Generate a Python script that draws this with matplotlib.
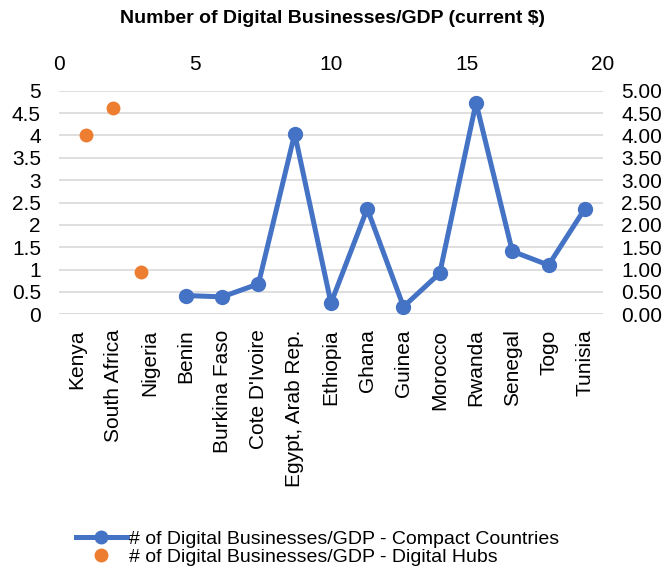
import matplotlib.pyplot as plt
from matplotlib.lines import Line2D

plt.rcParams["font.family"] = ["Liberation Sans", "DejaVu Sans"]

# compact countries (category axis) and digital hubs (secondary x axis)
countries = [
    "Kenya", "South Africa", "Nigeria", "Benin", "Burkina Faso",
    "Cote D'Ivoire", "Egypt, Arab Rep.", "Ethiopia", "Ghana", "Guinea",
    "Morocco", "Rwanda", "Senegal", "Togo", "Tunisia",
]
compact_countries = [
    "Benin", "Burkina Faso", "Cote D'Ivoire", "Egypt, Arab Rep.", "Ethiopia",
    "Ghana", "Guinea", "Morocco", "Rwanda", "Senegal", "Togo", "Tunisia",
]
compact_values = [0.42, 0.39, 0.68, 4.04, 0.25, 2.36, 0.17, 0.92, 4.73, 1.41, 1.10, 2.36]
hub_x = [1, 2, 3]
hub_values = [4.01, 4.62, 0.94]

blue = "#4472C4"
orange = "#ED7D31"
grid = "#D9D9D9"
fs = 15

fig = plt.figure(figsize=(6.65, 5.69), dpi=100)
ax = fig.add_axes([0.0887, 0.4476, 0.818, 0.393])

xpos = [countries.index(c) for c in compact_countries]
ax.plot(xpos, compact_values, color=blue, lw=3.6, marker="o", ms=10, zorder=3)
ax.set_xlim(-0.5, len(countries) - 0.5)
ax.set_ylim(0, 5)
ax.set_yticks([i * 0.5 for i in range(11)])
ax.set_yticklabels([f"{i * 0.5:g}" for i in range(11)])
ax.set_xticks(range(len(countries)))
ax.set_xticklabels(countries, rotation=90)
ax.tick_params(axis="x", length=0, labelsize=fs, pad=11)
ax.tick_params(axis="y", length=0, labelsize=fs, pad=13)
ax.grid(axis="y", color=grid, lw=1.2, zorder=0)
for s in ax.spines.values():
    s.set_visible(False)
ax.axhline(0, color=grid, lw=1.2, zorder=1)

# secondary y axis on the right
axr = ax.twinx()
axr.set_ylim(0, 5)
axr.set_yticks([i * 0.5 for i in range(11)])
axr.set_yticklabels([f"{i * 0.5:.2f}" for i in range(11)])
axr.tick_params(axis="y", length=0, labelsize=fs, pad=13)
for s in axr.spines.values():
    s.set_visible(False)

# secondary x axis on top for the scatter series
axt = ax.twiny()
axt.set_xlim(0, 20)
axt.set_xticks([0, 5, 10, 15, 20])
axt.scatter(hub_x, hub_values, s=100, color=orange, zorder=3, linewidths=0)
axt.tick_params(axis="x", length=0, labelsize=fs, pad=12)
for s in axt.spines.values():
    s.set_visible(False)

fig.suptitle("Number of Digital Businesses/GDP (current $)", fontsize=14,
             fontweight="bold", y=0.982)

handles = [
    Line2D([], [], color=blue, lw=3.6, marker="o", ms=9),
    Line2D([], [], color=orange, lw=0, marker="o", ms=9),
]
labels = [
    "# of Digital Businesses/GDP - Compact Countries",
    "# of Digital Businesses/GDP - Digital Hubs",
]
fig.legend(handles, labels, loc="lower left", bbox_to_anchor=(0.113, 0.004),
           frameon=False, fontsize=14, handlelength=2.6, handletextpad=0.1,
           labelspacing=0.0, borderpad=0.05, borderaxespad=0.0)

fig.savefig("out.png", dpi=100)
